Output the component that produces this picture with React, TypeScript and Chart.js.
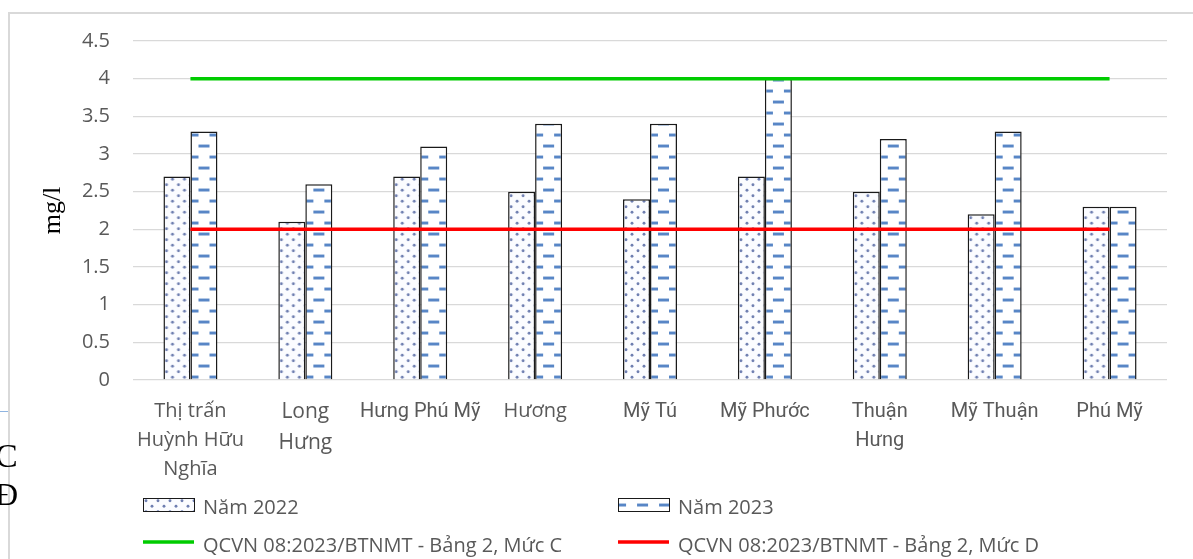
import React, { useEffect, useRef } from 'react';
import { Chart, registerables } from 'chart.js';

Chart.register(...registerables);

// ---- data ----
const categories: string[] = [
  'Thị trấn Huỳnh Hữu Nghĩa',
  'Long Hưng',
  'Hưng Phú Mỹ',
  'Hương',
  'Mỹ Tú',
  'Mỹ Phước',
  'Thuận Hưng',
  'Mỹ Thuận',
  'Phú Mỹ',
];
const tickLabels: string[][] = [
  ['Thị trấn', 'Huỳnh Hữu', 'Nghĩa'],
  ['Long', 'Hưng'],
  ['Hưng Phú Mỹ'],
  ['Hương'],
  ['Mỹ Tú'],
  ['Mỹ Phước'],
  ['Thuận', 'Hưng'],
  ['Mỹ Thuận'],
  ['Phú Mỹ'],
];
const values2022: number[] = [2.7, 2.1, 2.7, 2.5, 2.4, 2.7, 2.5, 2.2, 2.3];
const values2023: number[] = [3.3, 2.6, 3.1, 3.4, 3.4, 4.0, 3.2, 3.3, 2.3];
const limitC: number[] = [4, 4, 4, 4, 4, 4, 4, 4, 4];
const limitD: number[] = [2, 2, 2, 2, 2, 2, 2, 2, 2];
const seriesNames: string[] = [
  'Năm 2022',
  'Năm 2023',
  'QCVN 08:2023/BTNMT - Bảng 2, Mức C',
  'QCVN 08:2023/BTNMT - Bảng 2, Mức D',
];
const yMin = 0;
const yMax = 4.5;
const yStep = 0.5;

const CAT_PCT = 0.47;
const TEXT = '#595959';
const SANS = "'Open Sans', 'Noto Sans', sans-serif";
const ROBOTO = "Roboto, 'Open Sans', sans-serif";

function makeDotTile(): HTMLCanvasElement {
  const c = document.createElement('canvas');
  c.width = 12;
  c.height = 11;
  const g = c.getContext('2d')!;
  g.fillStyle = '#fbfcff';
  g.fillRect(0, 0, 12, 11);
  g.fillStyle = 'rgb(110,126,176)';
  const pts = [
    [3, 2.75],
    [9, 8.25],
  ];
  for (const [x, y] of pts) {
    g.beginPath();
    g.arc(x, y, 1.45, 0, Math.PI * 2);
    g.fill();
  }
  return c;
}

function makeDashTile(): HTMLCanvasElement {
  const c = document.createElement('canvas');
  c.width = 22;
  c.height = 22;
  const g = c.getContext('2d')!;
  g.fillStyle = '#ffffff';
  g.fillRect(0, 0, 22, 22);
  g.fillStyle = 'rgb(88,134,198)';
  g.fillRect(6, 3, 11, 3);
  g.fillRect(0, 14, 6, 3);
  g.fillRect(17, 14, 5, 3);
  return c;
}

const tickFonts = [
  { family: SANS, size: 20 },
  { family: SANS, size: 21 },
  { family: ROBOTO, size: 20 },
  { family: SANS, size: 20 },
  { family: ROBOTO, size: 20 },
  { family: ROBOTO, size: 20 },
  { family: ROBOTO, size: 20 },
  { family: ROBOTO, size: 20 },
  { family: ROBOTO, size: 20 },
];

export default function App() {
  const ref = useRef<HTMLCanvasElement>(null);

  useEffect(() => {
    const canvas = ref.current!;
    const dotTile = makeDotTile();
    const dashTile = makeDashTile();

    const geom = (chart: any, i: number) => {
      const xs = chart.scales.x;
      const cw = (xs.right - xs.left) / categories.length;
      const bw = (cw * CAT_PCT) / 2;
      return { px: xs.getPixelForValue(i), bw, base: chart.scales.y.getPixelForValue(0) };
    };

    const dotFill = (c: any) => {
      const p = c.chart.ctx.createPattern(dotTile, 'repeat');
      if (c.type === 'data' && c.chart.scales && c.chart.scales.x && c.chart.scales.y) {
        const { px, bw, base } = geom(c.chart, c.dataIndex);
        p.setTransform(new DOMMatrix().translate(px - bw, base));
      }
      return p;
    };
    const dashFill = (c: any) => {
      const p = c.chart.ctx.createPattern(dashTile, 'repeat');
      if (c.type === 'data' && c.chart.scales && c.chart.scales.x && c.chart.scales.y) {
        const { px, bw, base } = geom(c.chart, c.dataIndex);
        p.setTransform(new DOMMatrix().translate(px + bw / 2 - 11.5, base - 18.5));
      }
      return p;
    };

    const legendPlugin = {
      id: 'customLegend',
      afterDraw(chart: any) {
        const ctx = chart.ctx as CanvasRenderingContext2D;
        const { left, bottom } = chart.chartArea;
        const cols = [left + 10, left + 485];
        const boxTop = bottom + 118;
        const lineY = bottom + 162;
        ctx.save();
        ctx.font = `20px ${SANS}`;
        ctx.fillStyle = TEXT;
        ctx.textBaseline = 'middle';
        ctx.textAlign = 'left';
        [0, 1].forEach((di) => {
          const x = cols[di];
          const p = ctx.createPattern(di === 0 ? dotTile : dashTile, 'repeat')!;
          if (di === 0) p.setTransform(new DOMMatrix().translate(x, boxTop));
          else p.setTransform(new DOMMatrix().translate(x + 13, boxTop + 2.5));
          ctx.fillStyle = p;
          ctx.fillRect(x, boxTop, 52, 14);
          ctx.strokeStyle = '#1a1a1a';
          ctx.lineWidth = 1;
          ctx.strokeRect(x + 0.5, boxTop + 0.5, 51, 13);
          ctx.fillStyle = TEXT;
          ctx.fillText(chart.data.datasets[di].label, x + 60, boxTop + 10);
        });
        [2, 3].forEach((di, k) => {
          const x = cols[k];
          const ds = chart.data.datasets[di];
          ctx.strokeStyle = ds.borderColor;
          ctx.lineWidth = 3.5;
          ctx.beginPath();
          ctx.moveTo(x, lineY);
          ctx.lineTo(x + 51, lineY);
          ctx.stroke();
          ctx.fillStyle = TEXT;
          ctx.fillText(ds.label, x + 60, lineY + 4);
        });
        ctx.restore();
      },
    };

    const chart = new Chart(canvas, {
      type: 'bar',
      data: {
        labels: categories,
        datasets: [
          {
            type: 'bar',
            label: seriesNames[0],
            data: values2022,
            backgroundColor: dotFill as any,
            borderColor: '#1a1a1a',
            borderWidth: 1.5,
            categoryPercentage: CAT_PCT,
            barPercentage: 1,
            order: 2,
          },
          {
            type: 'bar',
            label: seriesNames[1],
            data: values2023,
            backgroundColor: dashFill as any,
            borderColor: '#1a1a1a',
            borderWidth: 1.5,
            categoryPercentage: CAT_PCT,
            barPercentage: 1,
            order: 2,
          },
          {
            type: 'line',
            label: seriesNames[2],
            data: limitC,
            borderColor: 'rgb(0,204,0)',
            backgroundColor: 'rgb(0,204,0)',
            borderWidth: 3.5,
            pointRadius: 0,
            fill: false,
            tension: 0,
            order: 1,
          },
          {
            type: 'line',
            label: seriesNames[3],
            data: limitD,
            borderColor: 'rgb(255,0,0)',
            backgroundColor: 'rgb(255,0,0)',
            borderWidth: 3.5,
            pointRadius: 0,
            fill: false,
            tension: 0,
            order: 1,
          },
        ] as any,
      },
      options: {
        responsive: false,
        animation: false,
        layout: { padding: { left: 0, right: 26, top: 27, bottom: 60 } },
        plugins: {
          legend: { display: false },
          tooltip: { enabled: false },
          title: { display: false },
        },
        scales: {
          x: {
            grid: { display: false, drawTicks: false },
            border: { display: false },
            ticks: {
              autoSkip: false,
              maxRotation: 0,
              minRotation: 0,
              padding: 17,
              color: TEXT,
              font: ((c: any) => ({ ...(tickFonts[c.index] || tickFonts[0]), lineHeight: 1.45 })) as any,
              callback: (_v: any, i: number) => tickLabels[i],
            },
            afterFit: (s: any) => {
              s.height = 119;
            },
          },
          y: {
            min: yMin,
            max: yMax,
            ticks: {
              stepSize: yStep,
              padding: 0,
              color: TEXT,
              font: { family: SANS, size: 20 },
              callback: (v: any) => String(v),
            },
            grid: {
              color: '#d9d9d9',
              lineWidth: 1.3,
              drawTicks: true,
              tickLength: 23,
              tickColor: 'rgba(0,0,0,0)',
            },
            border: { display: false },
            title: {
              display: true,
              text: 'mg/l',
              color: '#000000',
              font: { family: "'Liberation Serif', 'DejaVu Serif', serif", size: 26 },
              padding: { top: 28, bottom: 0 },
            },
            afterFit: (s: any) => {
              s.width = 123;
            },
          },
        },
      } as any,
      plugins: [legendPlugin],
    });

    return () => chart.destroy();
  }, []);

  return (
    <div style={{ position: 'absolute', left: 0, top: 0, width: 1193, height: 559, overflow: 'hidden', background: '#ffffff' }}>
      <div
        style={{
          position: 'absolute',
          left: 8,
          top: 12,
          width: 1185,
          height: 547,
          borderLeft: '2px solid #d9d9d9',
          borderTop: '2px solid #d9d9d9',
          boxSizing: 'border-box',
        }}
      >
        <canvas ref={ref} width={1183} height={545} style={{ display: 'block' }} />
      </div>
      <div style={{ position: 'absolute', left: 0, top: 411, width: 8, height: 1, background: '#8fb4e0' }} />
      <div
        style={{
          position: 'absolute',
          left: -5,
          top: 439,
          fontFamily: "'Liberation Serif', serif",
          fontSize: 34,
          lineHeight: '34px',
          color: '#000',
        }}
      >
        C
      </div>
      <div
        style={{
          position: 'absolute',
          left: -5,
          top: 477,
          fontFamily: "'Liberation Serif', serif",
          fontSize: 32,
          lineHeight: '34px',
          color: '#000',
        }}
      >
        Đ
      </div>
    </div>
  );
}
